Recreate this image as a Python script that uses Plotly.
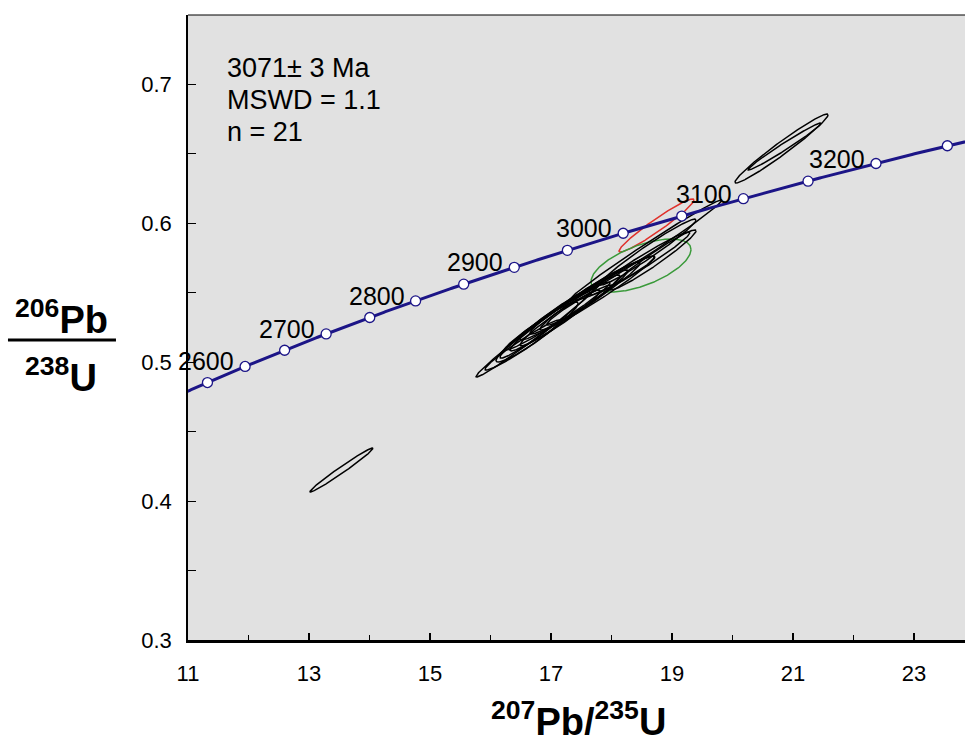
import numpy as np
import plotly.graph_objects as go

# U decay constants (per Ma)
LAMBDA_238 = 1.55125e-4
LAMBDA_235 = 9.8485e-4

# Concordia age markers (Ma) and labelled ages
marker_ages = [2550, 2600, 2650, 2700, 2750, 2800, 2850, 2900, 2950,
               3000, 3050, 3100, 3150, 3200, 3250]
label_ages = [2600, 2700, 2800, 2900, 3000, 3100, 3200]

# Analyses: 207Pb/235U, 206Pb/238U, ellipse half-widths and error correlation
ell_x = [13.537, 20.810, 20.860, 18.744, 18.488,
         16.785, 16.769, 16.901, 17.231, 17.149, 17.562, 17.760, 18.570,
         18.603, 18.058, 18.686, 17.380, 17.107, 18.471, 17.471, 16.529]
ell_y = [0.4223, 0.6536, 0.6550, 0.5982, 0.5694,
         0.5230, 0.5216, 0.5273, 0.5353, 0.5317, 0.5460, 0.5496, 0.5806,
         0.5791, 0.5604, 0.5734, 0.5410, 0.5331, 0.5709, 0.5410, 0.5122]
ell_sx = [0.521, 0.769, 0.603, 0.620, 0.826,
          1.025, 0.678, 0.744, 0.909, 0.661, 0.909, 0.942, 1.256,
          0.793, 0.661, 0.711, 0.893, 0.868, 0.826, 0.537, 0.620]
ell_sy = [0.0158, 0.0248, 0.0169, 0.0191, 0.0191,
          0.0338, 0.0216, 0.0245, 0.0273, 0.0201, 0.0259, 0.0266, 0.0360,
          0.0237, 0.0158, 0.0216, 0.0252, 0.0245, 0.0227, 0.0144, 0.0180]
ell_rho = [0.985, 0.975, 0.985, 0.962, 0.60,
           0.990, 0.95, 0.972, 0.975, 0.965, 0.972, 0.975, 0.992,
           0.975, 0.96, 0.97, 0.972, 0.978, 0.975, 0.96, 0.97]
ell_color = ["black", "black", "black", "#e0302a", "#3a9a3a"] + ["black"] * 16

FONT = "Liberation Sans, Arial, sans-serif"
NAVY = "#1c1587"


def concordia(t):
    t = np.asarray(t, dtype=float)
    return np.exp(LAMBDA_235 * t) - 1.0, np.exp(LAMBDA_238 * t) - 1.0


fig = go.Figure()

# error ellipses
theta = np.linspace(0, 2 * np.pi, 241)
for cx, cy, sx, sy, r, col in zip(ell_x, ell_y, ell_sx, ell_sy, ell_rho, ell_color):
    ex = cx + sx * np.cos(theta)
    ey = cy + sy * (r * np.cos(theta) + np.sqrt(1 - r * r) * np.sin(theta))
    fig.add_trace(go.Scatter(x=ex, y=ey, mode="lines",
                             line=dict(color=col, width=1.5),
                             hoverinfo="skip", showlegend=False))

# concordia curve
t_curve = np.linspace(2450, 3350, 500)
cxs, cys = concordia(t_curve)
fig.add_trace(go.Scatter(x=cxs, y=cys, mode="lines",
                         line=dict(color=NAVY, width=3),
                         hoverinfo="skip", showlegend=False))

mx, my = concordia(marker_ages)
fig.add_trace(go.Scatter(x=mx, y=my, mode="markers",
                         marker=dict(size=10, color="white",
                                     line=dict(color=NAVY, width=1.3)),
                         hoverinfo="skip", showlegend=False))

lx, ly = concordia(label_ages)
for age, ax_, ay_ in zip(label_ages, lx, ly):
    fig.add_annotation(x=ax_, y=ay_, text=str(age), showarrow=False,
                       xanchor="right", yanchor="middle", xshift=-9, yshift=5,
                       font=dict(family=FONT, size=25, color="black"))

# age summary
for i, line in enumerate(["3071\u00b1 3 Ma", "MSWD = 1.1", "n = 21"]):
    fig.add_annotation(xref="paper", yref="paper", x=0.0475,
                       y=0.9152 - i * 0.0512, text=line, showarrow=False,
                       xanchor="left", yanchor="middle",
                       font=dict(family=FONT, size=27, color="black"))

# axis titles
fig.add_annotation(xref="paper", yref="paper", x=0.503, y=-0.085,
                   text="<b><sup>207</sup>Pb/<sup>235</sup>U</b>",
                   showarrow=False, xanchor="center", yanchor="top",
                   font=dict(family=FONT, size=38, color="black"))
fig.add_annotation(xref="paper", yref="paper", x=-0.1624, y=0.476,
                   text="<b><sup>206</sup>Pb</b>", showarrow=False,
                   xanchor="center", yanchor="bottom",
                   font=dict(family=FONT, size=38, color="black"))
fig.add_annotation(xref="paper", yref="paper", x=-0.1634, y=0.465,
                   text="<b><sup>238</sup>U</b>", showarrow=False,
                   xanchor="center", yanchor="top",
                   font=dict(family=FONT, size=38, color="black"))
fig.add_shape(type="line", xref="paper", yref="paper",
              x0=-0.2317, x1=-0.0927, y0=0.48, y1=0.48,
              line=dict(color="black", width=3))
# top frame
fig.add_shape(type="line", xref="paper", yref="paper",
              x0=0, x1=1, y0=1, y1=1, line=dict(color="black", width=1))

TICK_FONT = dict(family=FONT, size=22, color="black")

fig.update_layout(
    width=965, height=735,
    margin=dict(l=188, r=0, t=15, b=95),
    paper_bgcolor="white", plot_bgcolor="#e1e1e1",
    font=dict(family=FONT, size=22, color="black"),
    xaxis=dict(range=[11, 11 + 777 / 60.5], tickvals=[11, 13, 15, 17, 19, 21, 23],
               ticks="inside", ticklen=7, tickwidth=1.5, tickcolor="black",
               minor=dict(dtick=1, ticks="inside", ticklen=5, tickwidth=1.3,
                          tickcolor="black", showgrid=False),
               showline=True, linecolor="black", linewidth=2.5,
               showgrid=False, zeroline=False, ticklabelstandoff=12,
               tickfont=TICK_FONT),
    yaxis=dict(range=[0.3, 0.3 + 625 / 1390], tickvals=[0.3, 0.4, 0.5, 0.6, 0.7],
               ticks="inside", ticklen=8, tickwidth=1.3, tickcolor="black",
               minor=dict(dtick=0.05, ticks="inside", ticklen=8, tickwidth=1.3,
                          tickcolor="black", showgrid=False),
               showline=True, linecolor="black", linewidth=1.5,
               showgrid=False, zeroline=False, ticklabelstandoff=10,
               tickfont=TICK_FONT),
)

fig.write_html("out.html")
